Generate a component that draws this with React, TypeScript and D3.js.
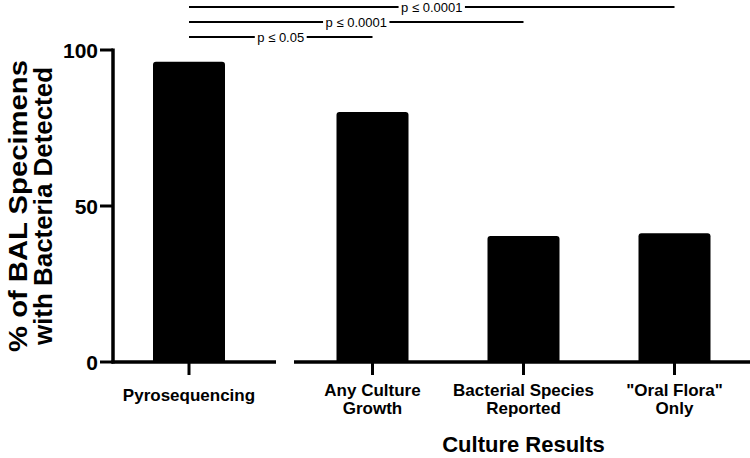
import { useEffect, useRef } from 'react'
import * as d3 from 'd3'

// chart data
const leftCats = ['Pyrosequencing']
const rightCats = ['Any Culture Growth', 'Bacterial Species Reported', '"Oral Flora" Only']
const values = [96.2, 80.1, 40.4, 41.3]
const tickLabels = [['Pyrosequencing'], ['Any Culture', 'Growth'], ['Bacterial Species', 'Reported'], ['"Oral Flora"', 'Only']]
const yTicks = [0, 50, 100]
const comparisons = [
  { from: 'Pyrosequencing', to: 'Any Culture Growth', label: 'p ≤ 0.05' },
  { from: 'Pyrosequencing', to: 'Bacterial Species Reported', label: 'p ≤ 0.0001' },
  { from: 'Pyrosequencing', to: '"Oral Flora" Only', label: 'p ≤ 0.0001' },
]
const yTitle = ['% of BAL Specimens', 'with Bacteria Detected']
const xTitle = 'Culture Results'

const width = 750
const height = 458
const font = 'Liberation Sans, Arial, sans-serif'

function barPath(x0: number, x1: number, yTop: number, yBottom: number, r: number) {
  return `M${x0},${yBottom} V${yTop + r} Q${x0},${yTop} ${x0 + r},${yTop} H${x1 - r} Q${x1},${yTop} ${x1},${yTop + r} V${yBottom} Z`
}

export default function App() {
  const ref = useRef<SVGSVGElement>(null)

  useEffect(() => {
    const svg = d3.select(ref.current)
    svg.selectAll('*').remove()

    const categories = [...leftCats, ...rightCats]
    const yScale = d3.scaleLinear().domain([0, 100]).range([362, 50])
    const xLeft = d3.scalePoint<string>().domain(leftCats).range([113, 265]).padding(0.5)
    const xRight = d3.scalePoint<string>().domain(rightCats).range([297, 750]).padding(0.5)
    const xPos = (c: string) => (leftCats.includes(c) ? xLeft(c)! : xRight(c)!)
    const barW = 72
    const y0 = yScale(0)

    // bars
    svg.selectAll('path.bar')
      .data(categories)
      .join('path')
      .attr('class', 'bar')
      .attr('fill', '#000')
      .attr('d', (c, i) => barPath(xPos(c) - barW / 2, xPos(c) + barW / 2, yScale(values[i]), y0, 3))

    // y axis
    svg.append('line')
      .attr('x1', 113).attr('x2', 113)
      .attr('y1', yScale(100) - 1.5).attr('y2', y0 + 1.5)
      .attr('stroke', '#000').attr('stroke-width', 3.5)
    svg.selectAll('line.ytick')
      .data(yTicks)
      .join('line')
      .attr('class', 'ytick')
      .attr('x1', 100).attr('x2', 113)
      .attr('y1', d => yScale(d)).attr('y2', d => yScale(d))
      .attr('stroke', '#000').attr('stroke-width', 3)
    svg.selectAll('text.ylab')
      .data(yTicks)
      .join('text')
      .attr('class', 'ylab')
      .attr('x', 98)
      .attr('y', d => yScale(d))
      .attr('dy', '0.36em')
      .attr('text-anchor', 'end')
      .attr('font-family', font)
      .attr('font-weight', 'bold')
      .attr('font-size', 21)
      .text(d => d)

    // broken x axis
    const segments = [[111.5, 276], [294, 750]]
    svg.selectAll('line.xseg')
      .data(segments)
      .join('line')
      .attr('class', 'xseg')
      .attr('x1', d => d[0]).attr('x2', d => d[1])
      .attr('y1', y0).attr('y2', y0)
      .attr('stroke', '#000').attr('stroke-width', 3.5)
    svg.selectAll('line.xtick')
      .data(categories)
      .join('line')
      .attr('class', 'xtick')
      .attr('x1', c => xPos(c)).attr('x2', c => xPos(c))
      .attr('y1', y0).attr('y2', 375)
      .attr('stroke', '#000').attr('stroke-width', 3)

    const labG = svg.selectAll('text.xlab')
      .data(categories)
      .join('text')
      .attr('class', 'xlab')
      .attr('text-anchor', 'middle')
      .attr('font-family', font)
      .attr('font-weight', 'bold')
      .attr('font-size', 17)
    labG.selectAll('tspan')
      .data((c, i) => tickLabels[i].map(t => ({ t, x: xPos(c), n: tickLabels[i].length })))
      .join('tspan')
      .attr('x', d => d.x)
      .attr('y', (d, j) => (d.n === 1 ? 401 : 396 + j * 18))
      .text(d => d.t)

    // axis titles
    svg.append('text')
      .attr('x', xRight('Bacterial Species Reported')!)
      .attr('y', 452)
      .attr('text-anchor', 'middle')
      .attr('font-family', font)
      .attr('font-weight', 'bold')
      .attr('font-size', 22)
      .text(xTitle)

    const yMid = (yScale(0) + yScale(100)) / 2
    svg.selectAll('text.ytitle')
      .data(yTitle)
      .join('text')
      .attr('class', 'ytitle')
      .attr('transform', (d, i) => `translate(${27 + i * 25},${yMid}) rotate(-90)`)
      .attr('text-anchor', 'middle')
      .attr('font-family', font)
      .attr('font-weight', 'bold')
      .attr('font-size', 26)
      .attr('textLength', (d, i) => (i === 0 ? 292 : 278))
      .attr('lengthAdjust', 'spacingAndGlyphs')
      .text(d => d)

    // significance brackets
    const rowY = d3.scaleLinear().domain([0, comparisons.length - 1]).range([37, 7])
    comparisons.forEach((cmp, i) => {
      const xa = xPos(cmp.from)
      const xb = xPos(cmp.to)
      const yy = rowY(i)
      svg.append('line')
        .attr('x1', xa).attr('x2', xb)
        .attr('y1', yy).attr('y2', yy)
        .attr('stroke', '#000').attr('stroke-width', 2)
      const t = svg.append('text')
        .attr('x', (xa + xb) / 2)
        .attr('y', yy)
        .attr('dy', '0.35em')
        .attr('text-anchor', 'middle')
        .attr('font-family', font)
        .attr('font-size', 13)
        .text(cmp.label)
      const bb = (t.node() as SVGTextElement).getBBox()
      svg.insert('rect', () => t.node())
        .attr('x', bb.x - 2.5).attr('width', bb.width + 5)
        .attr('y', yy - 3).attr('height', 6)
        .attr('fill', '#fff')
    })
  }, [])

  return (
    <svg ref={ref} width={width} height={height} style={{ position: 'absolute', left: 0, top: 0, background: '#fff' }} />
  )
}
